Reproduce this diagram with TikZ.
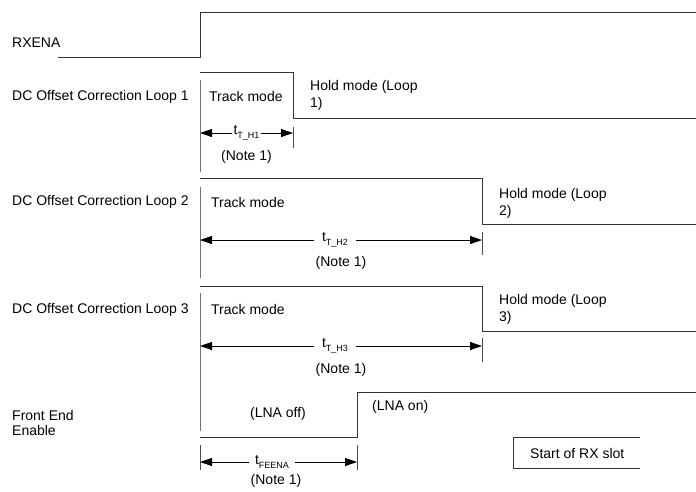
\documentclass[tikz,border=0pt]{standalone}
\usepackage{fontspec}
\setmainfont{Liberation Sans}
\usetikzlibrary{arrows.meta}

\newcommand{\tsub}[2]{#1\raisebox{-3.5pt}{\fontsize{9}{9}\selectfont #2}}

\begin{document}
\begin{tikzpicture}[x=1pt,y=-1pt,
  every node/.style={font=\fontsize{14}{17}\selectfont, inner sep=0pt},
  wave/.style={draw=black!80, line width=0.8pt},
  edge/.style={draw=black!55, line width=0.7pt},
  tick/.style={draw=black!70, line width=0.7pt},
  dim/.style={draw=black, line width=0.8pt, {Triangle[length=12pt,width=8pt]}-{Triangle[length=12pt,width=8pt]}},
  dimlabel/.style={fill=white, inner xsep=4pt, inner ysep=1pt},
  sig/.style={anchor=west},
  twoline/.style={anchor=west, align=left}]

\useasboundingbox (0,0) rectangle (696,491);

% ---- signal labels ----
\node[sig] (lrx) at (12,43) {RXENA};
\node[sig] (l1) at (12,97) {DC Offset Correction Loop 1};
\node[sig] (l2) at (12,202) {DC Offset Correction Loop 2};
\node[sig] (l3) at (12,310) {DC Offset Correction Loop 3};
\node[twoline, font=\fontsize{14}{15}\selectfont] (lfe) at (12,423) {Front End\\Enable};

% ---- RXENA ----
\coordinate (rx0) at (58,57);
\coordinate (rx1) at (200,57);
\coordinate (rx2) at (200,12);
\coordinate (rx3) at (696,12);
\draw[wave] (rx0) -- (rx1) -- (rx2) -- (rx3);

% ---- Loop 1 ----
\coordinate (a0) at (200,72);
\coordinate (a1) at (293,72);
\coordinate (a2) at (293,118);
\coordinate (a3) at (696,118);
\draw[wave] (a0) -- (a1) -- (a2) -- (a3);
\coordinate (a4) at (200,80);
\coordinate (a5) at (200,172);
\draw[edge] (a4) -- (a5);
\coordinate (a6) at (293,127);
\coordinate (a7) at (293,148);
\draw[tick] (a6) -- (a7);
\node[sig] (tm1) at (209,96) {Track mode};
\node[twoline] (hm1) at (310,95) {Hold mode (Loop\\1)};
\coordinate (d1a) at (200,133);
\coordinate (d1b) at (293,133);
\draw[dim] (d1a) -- (d1b);
\node[dimlabel, inner xsep=2pt] (t1) at (246.5,133) {\tsub{t}{T\_H1}};
\node (n1) at (246.5,157) {(Note 1)};

% ---- Loop 2 ----
\coordinate (b0) at (200,178);
\coordinate (b1) at (482,178);
\coordinate (b2) at (482,224);
\coordinate (b3) at (696,224);
\draw[wave] (b0) -- (b1) -- (b2) -- (b3);
\coordinate (b4) at (200,187);
\coordinate (b5) at (200,278);
\draw[edge] (b4) -- (b5);
\coordinate (b6) at (482,232);
\coordinate (b7) at (482,255);
\draw[tick] (b6) -- (b7);
\node[sig] (tm2) at (211,202) {Track mode};
\node[twoline] (hm2) at (499,203) {Hold mode (Loop\\2)};
\coordinate (d2a) at (200,240);
\coordinate (d2b) at (482,240);
\draw[dim] (d2a) -- (d2b);
\node[dimlabel, inner xsep=8pt] (t2) at (335,240) {\tsub{t}{T\_H2}};
\node (n2) at (341,263) {(Note 1)};

% ---- Loop 3 ----
\coordinate (c0) at (200,286);
\coordinate (c1) at (482,286);
\coordinate (c2) at (482,331);
\coordinate (c3) at (696,331);
\draw[wave] (c0) -- (c1) -- (c2) -- (c3);
\coordinate (c4) at (200,293);
\coordinate (c5) at (200,431);
\draw[edge] (c4) -- (c5);
\coordinate (c6) at (482,338);
\coordinate (c7) at (482,362);
\draw[tick] (c6) -- (c7);
\node[sig] (tm3) at (211,309) {Track mode};
\node[twoline] (hm3) at (499,309) {Hold mode (Loop\\3)};
\coordinate (d3a) at (200,346);
\coordinate (d3b) at (482,346);
\draw[dim] (d3a) -- (d3b);
\node[dimlabel, inner xsep=8pt] (t3) at (335,346) {\tsub{t}{T\_H3}};
\node (n3) at (341,370) {(Note 1)};

% ---- Front End Enable ----
\coordinate (f0) at (200,437);
\coordinate (f1) at (357,437);
\coordinate (f2) at (357,392);
\coordinate (f3) at (696,392);
\draw[wave] (f0) -- (f1) -- (f2) -- (f3);
\coordinate (f4) at (200,445);
\coordinate (f5) at (200,470);
\coordinate (f6) at (357,445);
\coordinate (f7) at (357,470);
\draw[tick] (f4) -- (f5);
\draw[tick] (f6) -- (f7);
\node (off) at (278,414) {(LNA off)};
\node[sig] (on) at (372,407) {(LNA on)};
\coordinate (d4a) at (200,462);
\coordinate (d4b) at (357,462);
\draw[dim] (d4a) -- (d4b);
\node[dimlabel, inner xsep=6pt] (t4) at (272,462) {\tsub{t}{FEENA}};
\node (n4) at (276,481) {(Note 1)};

% ---- start of RX slot marker ----
\coordinate (s0) at (640,437);
\coordinate (s1) at (513,437);
\coordinate (s2) at (513,468);
\coordinate (s3) at (640,468);
\draw[wave] (s0) -- (s1) -- (s2) -- (s3);
\node[sig] (slot) at (530,453) {Start of RX slot};

\end{tikzpicture}
\end{document}
